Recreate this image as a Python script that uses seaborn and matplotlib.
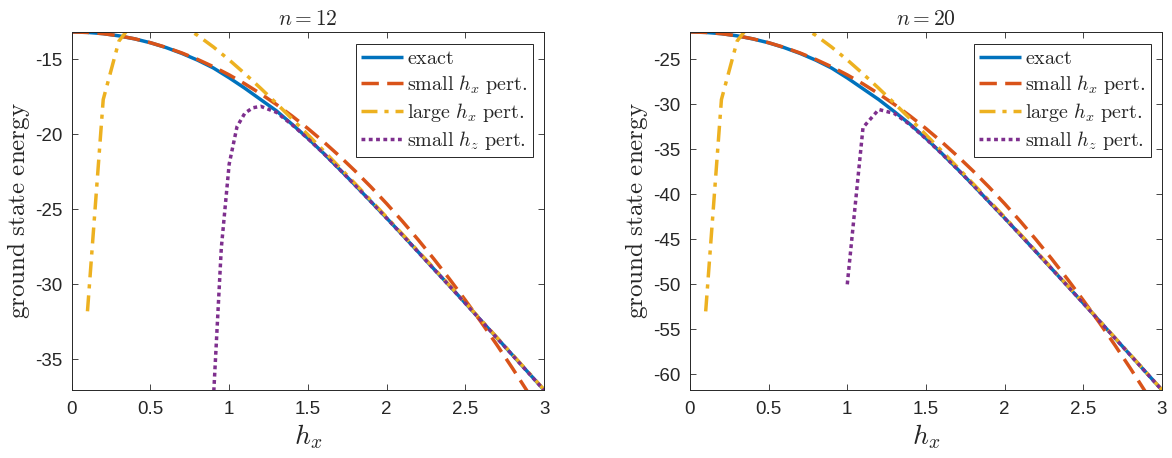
import numpy as np
import pandas as pd
import matplotlib
matplotlib.use("Agg")
import matplotlib.pyplot as plt
import seaborn as sns

nan = np.nan

# transverse field grid
h_x = [0.0, 0.1, 0.2, 0.3, 0.4, 0.5, 0.6, 0.7, 0.8, 0.9,
       1.0, 1.1, 1.2, 1.3, 1.4, 1.5, 1.6, 1.7, 1.8, 1.9,
       2.0, 2.1, 2.2, 2.3, 2.4, 2.5, 2.6, 2.7, 2.8, 2.9, 3.0]

# ---- n = 12 ----
exact_12 = [-13.20, -13.23, -13.31, -13.46, -13.66, -13.92, -14.24, -14.63, -15.08, -15.60,
            -16.25, -16.95, -17.70, -18.45, -19.35, -20.28, -21.28, -22.33, -23.40, -24.49,
            -25.59, -26.71, -27.84, -28.98, -30.11, -31.26, -32.41, -33.56, -34.72, -35.88, -37.04]
small_hx_12 = [-13.200, -13.229, -13.314, -13.457, -13.657, -13.914, -14.229, -14.600, -15.029, -15.514,
               -16.057, -16.657, -17.314, -18.029, -18.800, -19.629, -20.514, -21.457, -22.457, -23.514,
               -24.629, -25.800, -27.029, -28.314, -29.657, -31.057, -32.514, -34.029, -35.600, -37.229, -38.914]
large_hx_12 = [nan, -31.80, -17.70, -13.80, -12.45, -12.12, -12.30, -12.77, -13.43, -14.20,
               -15.06, -15.98, -16.95, -17.95, -18.99, -20.04, -21.11, -22.20, -23.30, -24.41,
               -25.53, -26.66, -27.79, -28.93, -30.08, -31.22, -32.38, -33.53, -34.69, -35.85, -37.02]
h_z_grid_12 = [0.9, 0.95, 1.0, 1.05, 1.1, 1.15, 1.2, 1.3, 1.4, 1.5, 1.6, 1.7, 1.8, 1.9,
               2.0, 2.1, 2.2, 2.3, 2.4, 2.5, 2.6, 2.7, 2.8, 2.9, 3.0]
small_hz_12 = [-37.60, -27.60, -22.00, -19.50, -18.60, -18.25, -18.15, -18.55, -19.38, -20.30,
               -21.29, -22.34, -23.41, -24.50, -25.60, -26.72, -27.85, -28.99, -30.12, -31.27,
               -32.42, -33.57, -34.73, -35.89, -37.05]

# ---- n = 20 ----
exact_20 = [-22.00, -22.05, -22.19, -22.43, -22.77, -23.20, -23.74, -24.38, -25.13, -26.00,
            -27.10, -28.30, -29.50, -30.85, -32.25, -33.80, -35.46, -37.20, -38.99, -40.82,
            -42.64, -44.51, -46.39, -48.28, -50.18, -52.09, -54.01, -55.93, -57.86, -59.79, -61.72]
small_hx_20 = [-22.000, -22.048, -22.190, -22.429, -22.762, -23.190, -23.714, -24.333, -25.048, -25.857,
               -26.762, -27.762, -28.857, -30.048, -31.333, -32.714, -34.190, -35.762, -37.429, -39.190,
               -41.048, -43.000, -45.048, -47.190, -49.429, -51.762, -54.190, -56.714, -59.333, -62.048, -64.857]
large_hx_20 = [nan, -53.00, -29.50, -23.00, -20.75, -20.20, -20.50, -21.29, -22.375, -23.67,
               -25.10, -26.64, -28.25, -29.92, -31.64, -33.40, -35.19, -37.00, -38.83, -40.68,
               -42.55, -44.43, -46.32, -48.22, -50.13, -52.04, -53.96, -55.89, -57.82, -59.76, -61.70]
h_z_grid_20 = [1.0, 1.1, 1.2, 1.3, 1.4, 1.5, 1.6, 1.7, 1.8, 1.9,
               2.0, 2.1, 2.2, 2.3, 2.4, 2.5, 2.6, 2.7, 2.8, 2.9, 3.0]
small_hz_20 = [-50.00, -32.60, -30.60, -31.05, -32.30, -33.85, -35.50, -37.22, -39.00, -40.83,
               -42.65, -44.52, -46.40, -48.29, -50.19, -52.10, -54.02, -55.94, -57.87, -59.80, -61.73]

titles = [r"$n=12$", r"$n=20$"]
x_ticks = [0, 0.5, 1, 1.5, 2, 2.5, 3]
x_tick_labels = ["0", "0.5", "1", "1.5", "2", "2.5", "3"]
y_ticks_12 = [-35, -30, -25, -20, -15]
y_ticks_20 = [-60, -55, -50, -45, -40, -35, -30, -25]

labels = [r"$\mathrm{exact}$",
          r"$\mathrm{small}\ h_x\ \mathrm{pert.}$",
          r"$\mathrm{large}\ h_x\ \mathrm{pert.}$",
          r"$\mathrm{small}\ h_z\ \mathrm{pert.}$"]
colors = ["#0072BD", "#D95319", "#EDB120", "#7E2F8E"]
styles = ["-", (0, (5.0, 2.4)), (0, (4.6, 2.0, 1.2, 2.0)), (0, (1.1, 1.0))]

sns.set_style("ticks")
plt.rcParams.update({
    "font.family": ["Liberation Sans", "DejaVu Sans"],
    "mathtext.fontset": "cm",
    "axes.unicode_minus": False,
    "axes.edgecolor": "#262626",
    "axes.linewidth": 0.7,
    "xtick.color": "#262626",
    "ytick.color": "#262626",
    "xtick.direction": "in",
    "ytick.direction": "in",
    "xtick.top": True,
    "ytick.right": True,
    "xtick.major.size": 4,
    "ytick.major.size": 4,
    "xtick.major.width": 0.6,
    "ytick.major.width": 0.6,
    "xtick.labelsize": 13.5,
    "ytick.labelsize": 13.5,
})

fig = plt.figure(figsize=(11.72, 4.58), dpi=100)
ax_left = fig.add_axes([0.0612, 0.1485, 0.4030, 0.7817])
ax_right = fig.add_axes([0.5887, 0.1485, 0.4027, 0.7817])

panels = [
    (ax_left, exact_12, small_hx_12, large_hx_12, h_z_grid_12, small_hz_12, y_ticks_12, titles[0]),
    (ax_right, exact_20, small_hx_20, large_hx_20, h_z_grid_20, small_hz_20, y_ticks_20, titles[1]),
]

for ax, ex, shx, lhx, hzg, shz, yt, title in panels:
    series = [(h_x, ex), (h_x, shx), (h_x, lhx), (hzg, shz)]
    for (xv, yv), lab, col, ls in zip(series, labels, colors, styles):
        df = pd.DataFrame({"h": xv, "E": yv}).dropna()
        sns.lineplot(data=df, x="h", y="E", ax=ax, color=col, linestyle=ls,
                     linewidth=2.5, label=lab, legend=False, sort=True,
                     estimator=None)
    for line in ax.lines:
        line.set_dash_capstyle("butt")
        line.set_solid_capstyle("butt")
    ax.set_xlim(0, 3)
    ax.set_ylim(min(ex), max(ex))
    ax.set_xticks(x_ticks)
    ax.set_xticklabels(x_tick_labels)
    ax.set_yticks(yt)
    ax.set_yticklabels([str(v) for v in yt])
    ax.tick_params(axis="x", pad=8)
    ax.tick_params(axis="y", pad=7)
    ax.set_title(title, fontsize=15.5, pad=5)
    ax.set_xlabel(r"$h_x$", fontsize=20, labelpad=3)
    ax.set_ylabel(r"$\mathrm{ground\ state\ energy}$", fontsize=18, labelpad=2)
    for s in ax.spines.values():
        s.set_visible(True)
    leg = ax.legend(loc="upper right", bbox_to_anchor=(0.976, 0.9665),
                    borderaxespad=0, fontsize=14.5, frameon=True, fancybox=False,
                    edgecolor="#262626", framealpha=1, handlelength=2.1,
                    handletextpad=0.2, labelspacing=0.25, borderpad=0.25)
    leg.get_frame().set_linewidth(0.7)

fig.savefig("out.png", dpi=100)
